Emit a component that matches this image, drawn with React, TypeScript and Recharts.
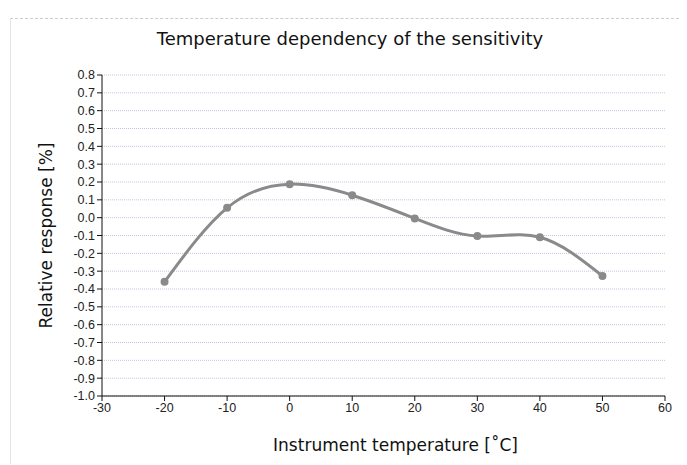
import React from "react";
import { LineChart, Line, XAxis, YAxis, CartesianGrid, Label } from "recharts";

const temperatures = [-20, -10, 0, 10, 20, 30, 40, 50];
const responses = [-0.36, 0.055, 0.188, 0.126, -0.004, -0.103, -0.11, -0.327];
const xTicks = [-30, -20, -10, 0, 10, 20, 30, 40, 50, 60];
const yTicks = [0.8, 0.7, 0.6, 0.5, 0.4, 0.3, 0.2, 0.1, 0, -0.1, -0.2, -0.3, -0.4, -0.5, -0.6, -0.7, -0.8, -0.9, -1.0];

const data = temperatures.map((t, i) => ({ t, r: responses[i] }));

const tickStyle = { fill: "#222", fontSize: 12.5, fontFamily: "Liberation Sans, Arial, sans-serif" };

export default function App() {
  return (
    <div style={{ position: "absolute", left: 0, top: 0, width: 687, height: 465, background: "#fff" }}>
      <div
        style={{
          position: "absolute", left: 10, top: 18, width: 668, height: 445,
          borderTop: "1px dashed #ccc", borderLeft: "1px solid #e4e4e4",
        }}
      />
      <div
        style={{
          position: "absolute", left: 0, width: 700, top: 28, textAlign: "center",
          fontFamily: "DejaVu Sans, sans-serif", fontSize: 18, color: "#111",
        }}
      >
        Temperature dependency of the sensitivity
      </div>
      <LineChart
        width={687}
        height={465}
        data={data}
        margin={{ top: 75, right: 22, bottom: 14, left: 0 }}
      >
        <CartesianGrid horizontal vertical={false} stroke="#c4c4e0" strokeDasharray="1 1" />
        <XAxis
          type="number"
          dataKey="t"
          domain={[-30, 60]}
          ticks={xTicks}
          height={55}
          stroke="#111"
          tickSize={5}
          tick={tickStyle}
          tickFormatter={(v: number) => String(v)}
        >
          <Label
            value="Instrument temperature [˚C]"
            position="insideBottom"
            offset={0}
            style={{ fill: "#111", fontSize: 17, fontFamily: "DejaVu Sans, sans-serif" }}
            dx={12}
          />
        </XAxis>
        <YAxis
          type="number"
          domain={[-1, 0.8]}
          ticks={yTicks}
          interval={0}
          width={102}
          stroke="#111"
          tickSize={5}
          tick={tickStyle}
          tickFormatter={(v: number) => v.toFixed(1)}
        >
          <Label
            value="Relative response [%]"
            angle={-90}
            position="insideLeft"
            offset={46}
            style={{ fill: "#111", fontSize: 17, fontFamily: "DejaVu Sans, sans-serif", textAnchor: "middle" }}
          />
        </YAxis>
        <Line
          type="natural"
          dataKey="r"
          stroke="#8a8a8a"
          strokeWidth={3}
          dot={{ r: 2.5, fill: "#8a8a8a", stroke: "#8a8a8a" }}
          isAnimationActive={false}
        />
      </LineChart>
    </div>
  );
}
